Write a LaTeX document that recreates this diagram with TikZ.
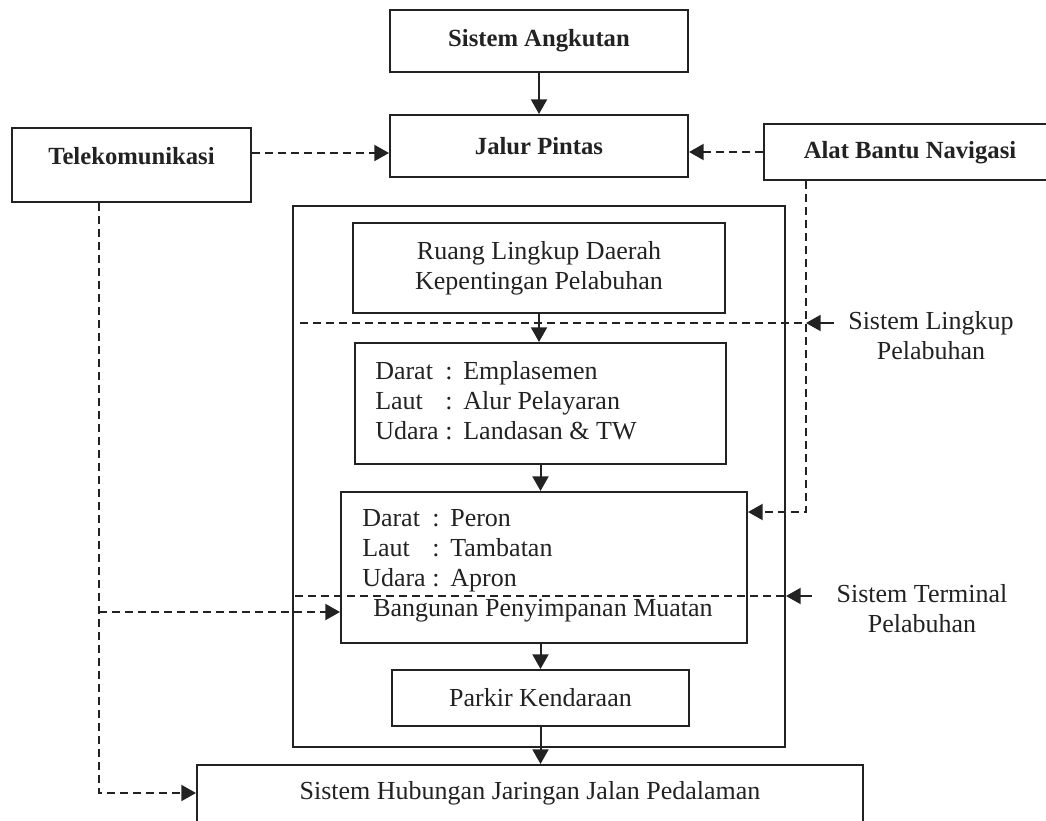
\documentclass[tikz,border=0pt]{standalone}
\usepackage{fontspec}
\setmainfont{Liberation Serif}
\usetikzlibrary{arrows.meta}
\definecolor{ink}{HTML}{222222}
\tikzset{
  box/.style={draw=ink, line width=1.5pt, inner sep=0pt},
  lbl/.style={font=\fontsize{19.5}{22.5}\selectfont, inner sep=0pt, text=ink},
  blbl/.style={font=\fontsize{18.5}{22}\selectfont\bfseries, inner sep=0pt, text=ink},
  arr/.style={draw=ink, line width=1.5pt, -{Triangle[length=11pt,width=12pt]}},
  darr/.style={arr, dash pattern=on 6pt off 3.75pt},
  dline/.style={draw=ink, line width=1.5pt, dash pattern=on 6pt off 3.75pt},
}
\begin{document}
\begin{tikzpicture}[x=0.75pt,y=-0.75pt]
\useasboundingbox (0,0) rectangle (1046,821);
\clip (0,0) rectangle (1046,821);
% boxes
\node[box, blbl, minimum width=223.5pt, minimum height=46.5pt] (angk) at (539,41) {Sistem Angkutan};
\node[box, blbl, minimum width=223.5pt, minimum height=46.5pt] (jalur) at (539,146) {Jalur Pintas};
\node[box, minimum width=179.25pt, minimum height=55.5pt] (tele) at (131.5,165) {};
\node[blbl] (teletext) at (131.5,156) {Telekomunikasi};
\node[box, minimum width=222pt, minimum height=42pt] (alat) at (912,152) {};
\node[blbl] (alattext) at (910,153) {Alat Bantu Navigasi};
\node[box, minimum width=369pt, minimum height=405.75pt] (cont) at (539,476.5) {};
\node[box, lbl, align=center, minimum width=279pt, minimum height=67.5pt] (ruang) at (539,268) {Ruang Lingkup Daerah\\Kepentingan Pelabuhan};
\node[box, minimum width=278.25pt, minimum height=90.75pt] (land) at (540.5,403.5) {};
\node[lbl, anchor=west] (landtext) at (375,403) {\begin{tabular}{@{}l@{\hspace{5pt}}c@{\hspace{8pt}}l@{}}Darat & : & Emplasemen\\ Laut & : & Alur Pelayaran\\ Udara & : & Landasan \& TW\end{tabular}};
\node[box, minimum width=304.5pt, minimum height=113.25pt] (peron) at (544,567.5) {};
\node[lbl, anchor=west] (perontext) at (362,550) {\begin{tabular}{@{}l@{\hspace{5pt}}c@{\hspace{8pt}}l@{}}Darat & : & Peron\\ Laut & : & Tambatan\\ Udara & : & Apron\end{tabular}};
\node[lbl] (bangunan) at (543,611) {Bangunan Penyimpanan Muatan};
\node[box, lbl, minimum width=222.75pt, minimum height=42pt] (parkir) at (540.5,698) {Parkir Kendaraan};
\node[box, minimum width=499.5pt, minimum height=56.25pt] (hub) at (530,802.5) {};
\node[lbl] (hubtext) at (530,793) {Sistem Hubungan Jaringan Jalan Pedalaman};
\node[lbl, align=center] (lingkup) at (931,336) {Sistem Lingkup\\Pelabuhan};
\node[lbl, align=center] (terminal) at (922,609) {Sistem Terminal\\Pelabuhan};
% solid arrows
\draw[arr] (angk.south) -- (jalur.north);
\draw[arr] (ruang.south) -- (ruang.south |- land.north);
\draw[arr] (land.south) -- (land.south |- peron.north);
\draw[arr] (land.south |- peron.south) -- (land.south |- parkir.north);
\draw[arr] (parkir.south) -- (parkir.south |- hub.north);
% dashed connectors
\coordinate (tj) at (390,153);
\draw[darr] (tele.east |- tj) -- (jalur.west |- tj);
\draw[darr] (alat.west) -- (alat.west -| jalur.east);
\coordinate (av) at (806,512);
\draw[darr] (alat.south -| av) -- (av) -- (av -| peron.east);
\coordinate (tb) at (99,793);
\coordinate (tv) at (99,612);
\draw[darr] (tele.south -| tb) -- (tb) -- (tb -| hub.west);
\draw[darr] (tv) -- (tv -| peron.west);
\coordinate (l1) at (300,323);
\coordinate (l2) at (806,323);
\coordinate (l3) at (834,323);
\draw[dline] (l1) -- (l2);
\draw[arr] (l3) -- (l2);
\coordinate (s1) at (295,596);
\coordinate (s3) at (812,596);
\draw[dline] (s1) -- (s1 -| cont.east);
\draw[arr] (s3) -- (s3 -| cont.east);
\end{tikzpicture}
\end{document}
